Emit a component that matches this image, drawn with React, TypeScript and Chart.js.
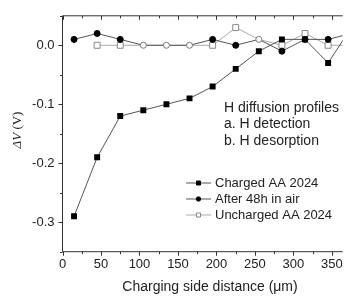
import React, { useEffect, useRef } from "react";
import { Chart, registerables } from "chart.js";

Chart.register(...registerables);

const distances = [15, 45, 75, 105, 135, 165, 195, 225, 255, 285, 315, 345, 375];
const charged = [-0.29, -0.19, -0.12, -0.11, -0.1, -0.09, -0.07, -0.04, -0.01, 0.01, 0.01, -0.03, 0.03];
const after48h = [0.01, 0.02, 0.01, 0, 0, 0, 0.01, 0, 0.01, -0.01, 0.01, 0.01, 0.02];
const uncharged = [null, 0, 0, 0, 0, 0, 0, 0.03, 0.01, 0, 0.02, 0, 0];
const xTicks = [0, 50, 100, 150, 200, 250, 300, 350];
const yTicks = [-0.3, -0.2, -0.1, 0.0];
const seriesNames = ["Charged AA 2024", "After 48h in air", "Uncharged AA 2024"];
const noteLines = ["H diffusion profiles", "a. H detection", "b. H desorption"];
const xTitle = "Charging side distance (\u03bcm)";
const yTitleSymbol = "\u0394V";
const yTitleUnit = " (V)";

const FONT = "'Liberation Sans', Arial, sans-serif";
const SERIF = "'Liberation Serif', 'Times New Roman', serif";
const openAfter = [3, 4, 5, 8];

export default function App() {
  const ref = useRef<HTMLCanvasElement>(null);
  useEffect(() => {
    const canvas = ref.current!;
    const overlay = {
      id: "overlay",
      afterDraw(chart: any) {
        const ctx = chart.ctx;
        const { left, top, bottom, right } = chart.chartArea;
        const xs = chart.scales.x;
        const ys = chart.scales.y;
        ctx.save();
        ctx.strokeStyle = "#333";
        ctx.lineWidth = 1;
        ctx.beginPath();
        ctx.moveTo(left, top);
        ctx.lineTo(right, top);
        ctx.moveTo(left, top);
        ctx.lineTo(left, bottom);
        ctx.moveTo(left, bottom);
        ctx.lineTo(right, bottom);
        for (let v = 0; v <= 364; v += 25) {
          const px = Math.round(xs.getPixelForValue(v)) + 0.5;
          const major = v % 50 === 0;
          const len = major ? 4 : 2.5;
          ctx.moveTo(px, bottom);
          ctx.lineTo(px, bottom + len);
          ctx.moveTo(px, top);
          ctx.lineTo(px, top + len);
        }
        for (let i = -7; i <= 1; i++) {
          const v = i * 0.05;
          const py = Math.round(ys.getPixelForValue(v)) + 0.5;
          const major = i % 2 === 0;
          const len = major ? 4 : 2.5;
          ctx.moveTo(left, py);
          ctx.lineTo(left - len, py);
        }
        ctx.stroke();

        ctx.fillStyle = "#222";
        ctx.font = `14px ${FONT}`;
        ctx.textBaseline = "middle";
        ctx.textAlign = "left";
        noteLines.forEach((t, i) => ctx.fillText(t, 224, 108 + i * 16.5));

        ctx.font = `13px ${FONT}`;
        const styles = [
          { line: "#555", fill: "#000", stroke: "#000", shape: "rect" },
          { line: "#555", fill: "#000", stroke: "#000", shape: "circle" },
          { line: "#aaa", fill: "#fff", stroke: "#888", shape: "rect" },
        ];
        seriesNames.forEach((name, i) => {
          const y = 183 + i * 16;
          const s = styles[i];
          ctx.strokeStyle = s.line;
          ctx.beginPath();
          ctx.moveTo(186, y);
          ctx.lineTo(211, y);
          ctx.stroke();
          ctx.fillStyle = s.fill;
          ctx.strokeStyle = s.stroke;
          ctx.beginPath();
          if (s.shape === "rect") ctx.rect(196.5, y - 2, 4, 4);
          else ctx.arc(198.5, y, 2.2, 0, Math.PI * 2);
          ctx.fill();
          ctx.stroke();
          ctx.fillStyle = "#222";
          ctx.fillText(name, 215, y);
        });

        ctx.font = `14px ${FONT}`;
        ctx.textAlign = "center";
        ctx.fillText(xTitle, 210, 287.5);

        ctx.translate(18, 130);
        ctx.rotate(-Math.PI / 2);
        ctx.font = `italic 13px ${SERIF}`;
        const w1 = ctx.measureText(yTitleSymbol).width;
        ctx.font = `13px ${SERIF}`;
        const w2 = ctx.measureText(yTitleUnit).width;
        const start = -(w1 + w2) / 2;
        ctx.textAlign = "left";
        ctx.font = `italic 13px ${SERIF}`;
        ctx.fillText(yTitleSymbol, start, 0);
        ctx.font = `13px ${SERIF}`;
        ctx.fillText(yTitleUnit, start + w1, 0);
        ctx.restore();
      },
    };

    const chart = new Chart(canvas, {
      type: "line",
      data: {
        labels: distances,
        datasets: [
          {
            label: seriesNames[1],
            data: distances.map((x, i) => ({ x, y: after48h[i] })),
            borderColor: "#555",
            borderWidth: 1,
            pointStyle: "circle",
            pointRadius: 3,
            pointBackgroundColor: after48h.map((_, i) => (openAfter.includes(i) ? "#fff" : "#000")),
            pointBorderColor: after48h.map((_, i) => (openAfter.includes(i) ? "#777" : "#000")),
            pointBorderWidth: 1,
          },
          {
            label: seriesNames[0],
            data: distances.map((x, i) => ({ x, y: charged[i] })),
            borderColor: "#555",
            borderWidth: 1,
            pointStyle: "rect",
            pointRadius: 4.2,
            pointBackgroundColor: "#000",
            pointBorderColor: "#000",
            pointBorderWidth: 0,
          },
          {
            label: seriesNames[2],
            data: distances.map((x, i) => ({ x, y: uncharged[i] })),
            borderColor: "#aaa",
            borderWidth: 1,
            pointStyle: "rect",
            pointRadius: uncharged.map((_, i) => (openAfter.includes(i) ? 0 : 4.2)),
            pointBackgroundColor: "#fff",
            pointBorderColor: "#888",
            pointBorderWidth: 1,
          },
        ],
      },
      options: {
        animation: false,
        responsive: false,
        devicePixelRatio: 1,
        layout: { padding: { top: 15.7, right: 0, left: 0, bottom: 0 } },
        plugins: { legend: { display: false }, tooltip: { enabled: false } },
        scales: {
          x: {
            type: "linear",
            min: 0,
            max: 364,
            grid: { display: false, drawTicks: false },
            border: { display: false },
            afterBuildTicks: (s: any) => {
              s.ticks = xTicks.map((v) => ({ value: v }));
            },
            afterFit: (s: any) => {
              s.height = 46.3;
            },
            ticks: { color: "#222", padding: 5, font: { family: FONT, size: 13 }, maxRotation: 0, autoSkip: false },
          },
          y: {
            type: "linear",
            min: -0.35,
            max: 0.05,
            grid: { display: false, drawTicks: false },
            border: { display: false },
            afterBuildTicks: (s: any) => {
              s.ticks = yTicks.map((v) => ({ value: v }));
            },
            afterFit: (s: any) => {
              s.width = 62.5;
            },
            ticks: {
              color: "#222",
              padding: 8,
              font: { family: FONT, size: 13 },
              callback: (v: any) => Number(v).toFixed(1).replace("-0.0", "0.0"),
            },
          },
        },
      },
      plugins: [overlay],
    });
    return () => chart.destroy();
  }, []);

  return (
    <div style={{ position: "fixed", left: 0, top: 0, width: 348, height: 298, background: "#fff" }}>
      <canvas ref={ref} width={348} height={298} style={{ width: 348, height: 298, display: "block" }} />
    </div>
  );
}
